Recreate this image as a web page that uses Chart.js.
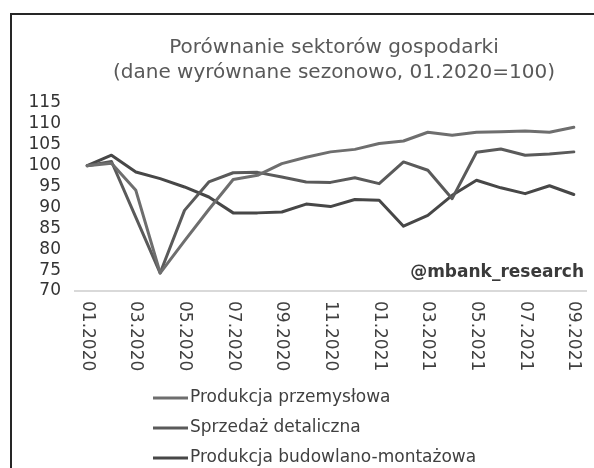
<!DOCTYPE html>
<html>
<head>
<meta charset="utf-8">
<script src="https://cdn.jsdelivr.net/npm/chart.js@4.4.1/dist/chart.umd.min.js"></script>
<style>
    html, body { margin: 0; padding: 0; background: #fff; }
    #wrap { position: relative; width: 594px; height: 468px; overflow: hidden; }
    #frame {
        position: absolute; left: 10px; top: 13px; width: 600px; height: 470px;
        border-top: 2px solid #262626; border-left: 2px solid #262626;
        pointer-events: none;
    }
</style>
</head>
<body>
<div id="wrap">
    <canvas id="chart" width="594" height="468"></canvas>
    <div id="frame"></div>
</div>
<script>
const months = [
    '01.2020', '02.2020', '03.2020', '04.2020', '05.2020', '06.2020', '07.2020',
    '08.2020', '09.2020', '10.2020', '11.2020', '12.2020', '01.2021', '02.2021',
    '03.2021', '04.2021', '05.2021', '06.2021', '07.2021', '08.2021', '09.2021'
];
const industrial = [100, 100.6, 94.1, 74.3, 82.0, 89.5, 96.7, 97.7, 100.5, 102.0, 103.3,
    103.9, 105.3, 105.9, 108.0, 107.3, 108.0, 108.1, 108.3, 108.0, 109.2];
const retail = [100, 101.0, 87.6, 74.3, 89.3, 96.1, 98.3, 98.4, 97.3, 96.1, 96.0,
    97.1, 95.7, 100.9, 98.9, 92.1, 103.2, 104.0, 102.5, 102.8, 103.3];
const construction = [100, 102.5, 98.5, 96.9, 94.9, 92.5, 88.7, 88.7, 88.9, 90.8, 90.2,
    91.9, 91.7, 85.5, 88.1, 92.9, 96.5, 94.7, 93.3, 95.2, 93.1];
const seriesNames = ['Produkcja przemysłowa', 'Sprzedaż detaliczna', 'Produkcja budowlano-montażowa'];
const titleLines = ['Porównanie sektorów gospodarki', '(dane wyrównane sezonowo, 01.2020=100)'];
const watermark = '@mbank_research';

const FONT = '"DejaVu Sans", Verdana, sans-serif';

// title, rotated month labels, watermark and legend
const decorPlugin = {
    id: 'decor',
    afterDraw(chart) {
        const ctx = chart.ctx;
        const xs = chart.scales.x;
        const area = chart.chartArea;
        ctx.save();

        // title
        ctx.fillStyle = '#595959';
        ctx.font = '20px ' + FONT;
        ctx.textAlign = 'center';
        ctx.textBaseline = 'middle';
        ctx.fillText(titleLines[0], 334, 48);
        ctx.fillText(titleLines[1], 334, 73);

        // month labels, every second one, rotated clockwise
        ctx.fillStyle = '#404040';
        ctx.font = '17px ' + FONT;
        ctx.textAlign = 'left';
        months.forEach((m, i) => {
            if (i % 2 !== 0) return;
            ctx.save();
            ctx.translate(xs.getPixelForValue(i), area.bottom + 10);
            ctx.rotate(Math.PI / 2);
            ctx.fillText(m, 0, 0);
            ctx.restore();
        });

        // watermark
        ctx.fillStyle = '#3a3a3a';
        ctx.font = 'bold 17px ' + FONT;
        ctx.textAlign = 'right';
        ctx.fillText(watermark, 584, 273);

        // legend
        ctx.font = '17px ' + FONT;
        ctx.textAlign = 'left';
        chart.data.datasets.forEach((ds, i) => {
            const y = 398 + i * 30;
            ctx.strokeStyle = ds.borderColor;
            ctx.lineWidth = 3;
            ctx.beginPath();
            ctx.moveTo(153, y);
            ctx.lineTo(188, y);
            ctx.stroke();
            ctx.fillStyle = '#404040';
            ctx.fillText(ds.label, 190, y);
        });
        ctx.restore();
    }
};

const ctx = document.getElementById('chart').getContext('2d');
new Chart(ctx, {
    type: 'line',
    data: {
        labels: months,
        datasets: [
            { label: seriesNames[0], data: industrial, borderColor: '#6e6e6e' },
            { label: seriesNames[1], data: retail, borderColor: '#5a5a5a' },
            { label: seriesNames[2], data: construction, borderColor: '#474747' }
        ]
    },
    options: {
        responsive: false,
        animation: false,
        layout: { padding: { top: 103, right: 8, left: 0, bottom: 0 } },
        elements: {
            line: { borderWidth: 3, tension: 0, borderJoinStyle: 'round', borderCapStyle: 'round' },
            point: { radius: 0 }
        },
        plugins: {
            legend: { display: false },
            title: { display: false },
            tooltip: { enabled: false }
        },
        scales: {
            x: {
                offset: true,
                grid: { display: false, drawTicks: false },
                border: { display: true, color: '#d9d9d9', width: 2 },
                ticks: { display: false },
                afterFit(scale) { scale.height = 177; }
            },
            y: {
                min: 70,
                max: 115,
                grid: { display: false, drawTicks: false },
                border: { display: false },
                ticks: {
                    stepSize: 5,
                    autoSkip: false,
                    padding: 14,
                    color: '#333333',
                    font: { family: FONT, size: 17 }
                },
                afterFit(scale) { scale.width = 75; }
            }
        }
    },
    plugins: [decorPlugin]
});
</script>
</body>
</html>
